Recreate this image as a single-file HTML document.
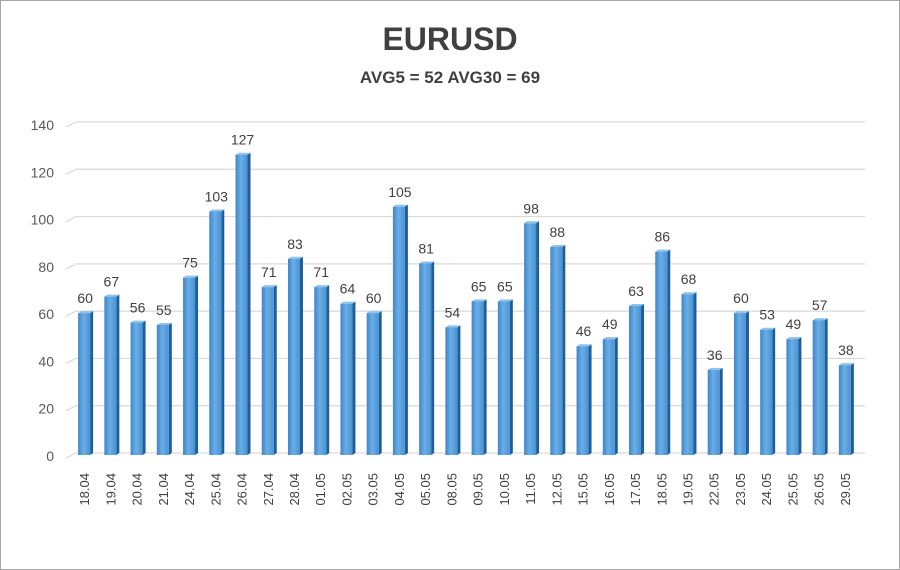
<!DOCTYPE html>
<html><head><meta charset="utf-8"><style>
body{margin:0;background:#fff}
svg{display:block;font-family:"Liberation Sans",sans-serif}
</style></head><body>
<svg id="c" width="900" height="570" viewBox="0 0 900 570">
<defs>
<linearGradient id="g" x1="0" x2="1" y1="0" y2="0">
<stop offset="0" stop-color="#3f86c9"/><stop offset="0.45" stop-color="#6aaee6"/><stop offset="1" stop-color="#4a92d3"/>
</linearGradient>
</defs>
<rect x="0.5" y="0.5" width="899" height="569" fill="#fff" stroke="#a6a6a6"/>
<text x="450" y="50" text-anchor="middle" font-size="32" font-weight="bold" fill="#404040">EURUSD</text>
<text x="450" y="83" text-anchor="middle" font-size="17" font-weight="bold" fill="#404040">AVG5 = 52 AVG30 = 69</text>
<g id="grid"></g><g id="bars"></g>
</svg>
<script>
const categories=["18.04","19.04","20.04","21.04","24.04","25.04","26.04","27.04","28.04","01.05","02.05","03.05","04.05","05.05","08.05","09.05","10.05","11.05","12.05","15.05","16.05","17.05","18.05","19.05","22.05","23.05","24.05","25.05","26.05","29.05"];
const values=[60,67,56,55,75,103,127,71,83,71,64,60,105,81,54,65,65,98,88,46,49,63,86,68,36,60,53,49,57,38];
const yTicks=[0,20,40,60,80,100,120,140];
const NS="http://www.w3.org/2000/svg";
const y0=455,yTop=124,yMax=140,x0=71,x1=858;
const y=v=>y0-(v/yMax)*(y0-yTop);
const step=(x1-x0)/categories.length;
const xc=i=>x0+step*(i+0.5);
function mk(t,a,p){const e=document.createElementNS(NS,t);for(const k in a)e.setAttribute(k,a[k]);p.appendChild(e);return e;}
const grid=document.getElementById('grid'),bars=document.getElementById('bars');
yTicks.forEach(t=>{
 const yy=y(t);
 const l=mk('polyline',{points:`66,${yy+3} 76,${yy-2} 865,${yy-2}`,fill:'none',stroke:'#d9d9d9','stroke-width':1.2},grid);
 
 
 const tx=mk('text',{x:54,y:yy+6,'text-anchor':'end','font-size':14,fill:'#595959'},grid);
 tx.textContent=t;
 
 
});
categories.forEach((c,i)=>{
 const cx=xc(i),w=12,v=values[i],top=y(v);
 const g=mk('g',{},bars);
 
 
 mk('polygon',{points:`${cx+w/2},${top} ${cx+w/2+3},${top-2} ${cx+w/2+3},${y0-2} ${cx+w/2},${y0}`,fill:'#1f5f99'},g);
 mk('polygon',{points:`${cx-w/2},${top} ${cx-w/2+3},${top-2} ${cx+w/2+3},${top-2} ${cx+w/2},${top}`,fill:'#8cc3ee'},g);
 mk('rect',{x:cx-w/2,y:top,width:w,height:y0-top,fill:'url(#g)'},g);
 const lb=mk('text',{x:cx+1,y:top-10,'text-anchor':'middle','font-size':14,fill:'#404040'},bars);
 lb.textContent=v;
 
 
 const xl=mk('text',{x:0,y:0,'text-anchor':'end','font-size':13,fill:'#404040',transform:`translate(${cx+5},473) rotate(-90)`},bars);
 xl.textContent=c;
 
 
});
</script>
</body></html>
